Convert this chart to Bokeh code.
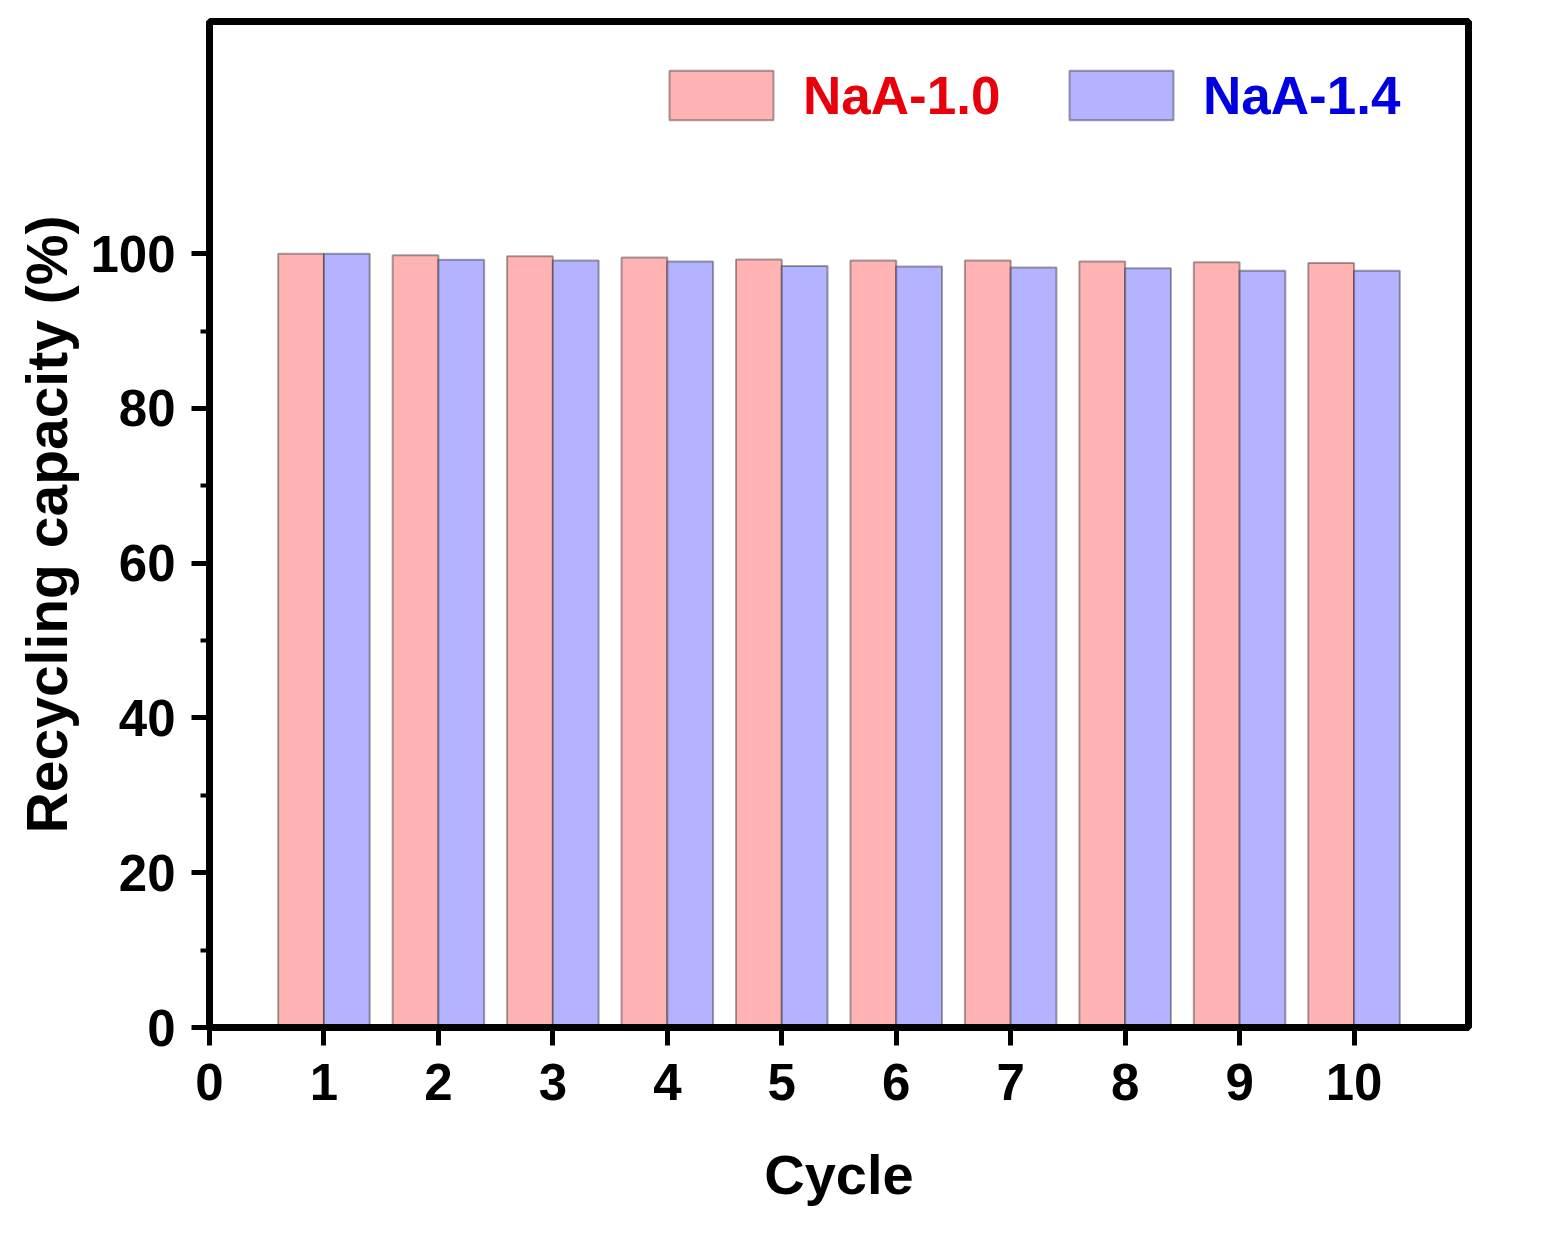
from bokeh.plotting import figure
from bokeh.models import ColumnDataSource, FixedTicker, Legend, LegendItem, Range1d
from bokeh.transform import dodge
from bokeh.embed import file_html
from bokeh.resources import INLINE

cycles = [1, 2, 3, 4, 5, 6, 7, 8, 9, 10]
naa_10 = [100.0, 99.8, 99.65, 99.5, 99.25, 99.1, 99.1, 99.0, 98.9, 98.8]
naa_14 = [100.0, 99.2, 99.1, 99.0, 98.4, 98.35, 98.2, 98.1, 97.8, 97.8]
x_ticks = [0, 1, 2, 3, 4, 5, 6, 7, 8, 9, 10]
y_ticks = [0, 20, 40, 60, 80, 100]
y_minor = [10, 30, 50, 70, 90]
series_names = ["NaA-1.0", "NaA-1.4"]

FONT = "Liberation Sans"

src = ColumnDataSource(dict(cycle=cycles, a=naa_10, b=naa_14))

p = figure(width=1546, height=1218, output_backend="svg", toolbar_location=None,
           x_range=Range1d(0, 11), y_range=Range1d(0, 130),
           min_border_left=209, min_border_right=78, min_border_top=21, min_border_bottom=191)

r1 = p.vbar(x=dodge("cycle", -0.2, range=p.x_range), top="a", width=0.4, source=src,
            fill_color="#FFB3B3", line_color="#000000", line_alpha=0.35, line_width=2)
r2 = p.vbar(x=dodge("cycle", 0.2, range=p.x_range), top="b", width=0.4, source=src,
            fill_color="#B3B3FF", line_color="#000000", line_alpha=0.35, line_width=2)

p.grid.visible = False
p.outline_line_color = "black"
p.outline_line_width = 7
p.outline_line_alpha = 1.0
p.background_fill_color = "white"
p.border_fill_color = "white"

for ax in (p.xaxis[0], p.yaxis[0]):
    ax.axis_line_width = 7
    ax.axis_line_color = "black"
    ax.major_tick_line_width = 5
    ax.major_tick_line_color = "black"
    ax.minor_tick_line_width = 4
    ax.minor_tick_line_color = "black"
    ax.major_tick_in = 0
    ax.major_tick_out = 18
    ax.minor_tick_in = 0
    ax.minor_tick_out = 9
    ax.major_label_text_font = FONT
    ax.major_label_text_font_style = "bold"
    ax.major_label_text_font_size = "51px"
    ax.major_label_text_color = "black"
    ax.axis_label_text_font = FONT
    ax.axis_label_text_font_style = "bold"
    ax.axis_label_text_color = "black"

p.xaxis.axis_label_text_font_size = "56px"
p.yaxis.axis_label_text_font_size = "57px"
p.xaxis.ticker = FixedTicker(ticks=x_ticks, minor_ticks=[])
p.yaxis.ticker = FixedTicker(ticks=y_ticks, minor_ticks=y_minor)
p.xaxis.axis_label = "Cycle"
p.yaxis.axis_label = "Recycling capacity (%)"
p.xaxis.major_label_standoff = 18
p.yaxis.major_label_standoff = 16
p.xaxis.axis_label_standoff = 40
p.yaxis.axis_label_standoff = 8

def make_legend(renderer, label, color, loc):
    lg = Legend(items=[LegendItem(label=label, renderers=[renderer])], location=loc,
                orientation="horizontal", padding=0, margin=0, spacing=0,
                glyph_width=130, glyph_height=62, label_height=62, label_standoff=17,
                border_line_color=None, background_fill_alpha=0,
                label_text_font=FONT, label_text_font_style="bold",
                label_text_font_size="53px", label_text_color=color,
                label_text_baseline="middle")
    p.add_layout(lg)

make_legend(r1, series_names[0], "#E8000B", (447, 901))
make_legend(r2, series_names[1], "#0000E0", (847, 901))

open("out.html", "w").write(file_html(p, INLINE))
